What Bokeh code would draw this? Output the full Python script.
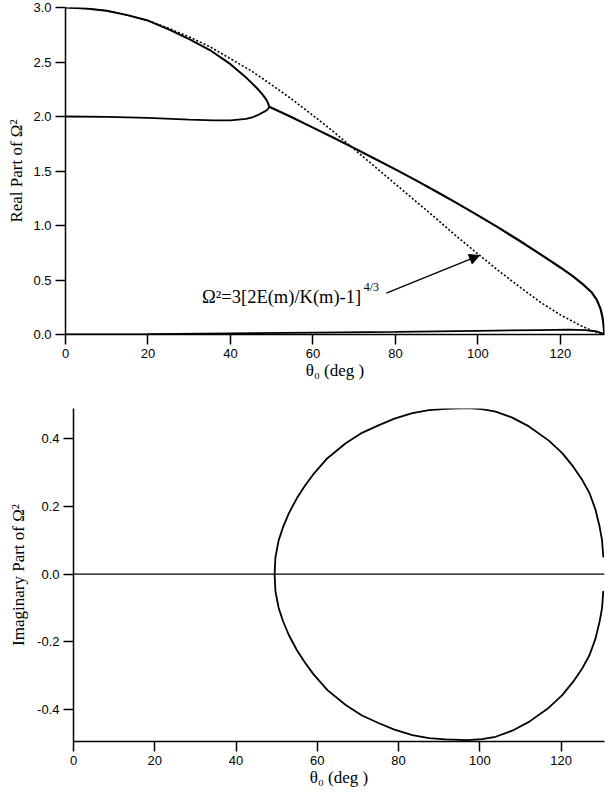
from bokeh.plotting import figure
from bokeh.models import Range1d, FixedTicker, NumeralTickFormatter, Arrow, NormalHead, Label
from bokeh.embed import file_html
from bokeh.resources import INLINE

# ---------------- data ----------------
x_ticks = [0, 20, 40, 60, 80, 100, 120]
top_y_ticks = [0.0, 0.5, 1.0, 1.5, 2.0, 2.5, 3.0]
bot_y_ticks = [-0.4, -0.2, 0.0, 0.2, 0.4]

# upper real branch (starts at 3)
upper_theta = [0, 5, 10, 15, 20, 25, 30, 35, 40, 42, 44, 45.5, 46.8, 47.8, 48.6, 49.1, 49.4]
upper_real = [3.0, 2.99, 2.97, 2.93, 2.88, 2.80, 2.71, 2.61, 2.48, 2.415, 2.35, 2.295, 2.245,
              2.20, 2.16, 2.125, 2.09]

# lower real branch (starts at 2)
lower_theta = [0, 10, 20, 30, 36, 40, 43.8, 45.5, 47.0, 48.0, 48.8, 49.2, 49.4]
lower_real = [2.0, 1.996, 1.987, 1.972, 1.964, 1.964, 1.978, 1.995, 2.02, 2.04, 2.058, 2.075, 2.09]

# real part of the merged complex pair
merged_theta = [49.4, 55, 60, 65, 70, 75, 80, 85, 90, 95, 100, 105, 110, 115, 120, 123,
                125.5, 127.5, 128.8, 129.7, 130.2, 130.5, 130.65]
merged_real = [2.09, 1.99, 1.898, 1.805, 1.71, 1.613, 1.515, 1.414, 1.31, 1.203, 1.093, 0.98,
               0.862, 0.74, 0.615, 0.535, 0.46, 0.39, 0.32, 0.24, 0.16, 0.08, 0.0]

# near-zero branch
low_theta = [0, 20, 40, 60, 80, 100, 115, 122, 126, 128.5, 130, 130.6]
low_real = [0.0, 0.004, 0.010, 0.017, 0.025, 0.034, 0.041, 0.044, 0.040, 0.030, 0.013, 0.0]

# dotted analytic curve  Omega^2 = 3[2E(m)/K(m)-1]^(4/3)
dot_theta = [0, 5, 10, 15, 20, 25, 30, 35, 40, 45, 50, 55, 60, 65, 70, 75, 80, 85, 90, 95,
             100, 105, 110, 115, 120, 125, 128, 130, 130.7]
dot_real = [3.0, 2.99, 2.97, 2.93, 2.88, 2.81, 2.73, 2.64, 2.53, 2.42, 2.29, 2.155, 2.01, 1.86,
            1.70, 1.54, 1.38, 1.22, 1.06, 0.895, 0.74, 0.585, 0.44, 0.30, 0.18, 0.08, 0.03, 0.005, 0.0]

# imaginary part (upper half of loop; lower half is its conjugate)
loop_theta = [49.5, 49.7, 50.5, 51.6, 53.0, 55.0, 57.0, 59.0, 62.5, 67, 71, 75.2, 79, 83.4,
              87.5, 91.6, 97, 100.5, 103.9, 108, 112.1, 117, 120.3, 123, 125.2, 127, 128.5,
              129.5, 130.1, 130.4]
loop_imag = [0.0, 0.05, 0.10, 0.14, 0.18, 0.225, 0.262, 0.295, 0.343, 0.387, 0.418, 0.441, 0.46,
             0.476, 0.485, 0.489, 0.491, 0.488, 0.481, 0.463, 0.437, 0.395, 0.358, 0.318, 0.279,
             0.24, 0.19, 0.14, 0.10, 0.05]
loop_imag_neg = [-v for v in loop_imag]

zero_theta = [0, 130.7]
zero_imag = [0.0, 0.0]

X_MAX = 130.7


def style(p, yticks, ylabel_standoff):
    p.grid.visible = False
    p.outline_line_color = None
    p.background_fill_color = "white"
    p.border_fill_color = "white"
    p.xaxis.ticker = FixedTicker(ticks=x_ticks)
    p.yaxis.ticker = FixedTicker(ticks=yticks)
    p.yaxis.formatter = NumeralTickFormatter(format="0.0")
    for ax in p.axis:
        ax.axis_line_color = "black"
        ax.axis_line_width = 1.5
        ax.major_tick_line_color = "black"
        ax.major_tick_line_width = 1.5
        ax.major_tick_in = 0
        ax.major_tick_out = 10
        ax.minor_tick_line_color = None
        ax.major_label_text_font = "Liberation Sans"
        ax.major_label_text_font_size = "13px"
        ax.major_label_text_color = "black"
        ax.major_label_standoff = 4
        ax.axis_label_text_font = "Liberation Serif"
        ax.axis_label_text_font_style = "normal"
        ax.axis_label_text_font_size = "17px"
        ax.axis_label_text_color = "black"
        ax.axis_label_standoff = 0
    p.yaxis.axis_label_standoff = ylabel_standoff


# ---------------- top plot ----------------
top = figure(width=605, height=384, x_range=Range1d(0, X_MAX), y_range=Range1d(0, 3.0),
             output_backend="svg", toolbar_location=None,
             min_border_left=65, min_border_right=1, min_border_top=7, min_border_bottom=50)
style(top, top_y_ticks, 4)
top.xaxis.axis_label = "θ₀ (deg )"
top.yaxis.axis_label = "Real Part of Ω²"

top.line(dot_theta, dot_real, line_color="black", line_width=1.6, line_dash="2 2")
top.line(upper_theta, upper_real, line_color="black", line_width=2)
top.line(lower_theta, lower_real, line_color="black", line_width=1.8)
top.line(merged_theta, merged_real, line_color="black", line_width=2.2)
top.line(low_theta, low_real, line_color="black", line_width=1.8)

top.add_layout(Label(x=33.1, y=0.34, text="Ω²=3[2E(m)/K(m)-1]", text_font="Liberation Serif",
                     text_font_size="18.5px", text_baseline="middle", text_color="black"))
top.add_layout(Label(x=72.3, y=0.434, text="4/3", text_font="Liberation Serif",
                     text_font_size="12px", text_baseline="middle", text_color="black"))
top.add_layout(Arrow(end=NormalHead(size=10, fill_color="black", line_color="black"),
                     x_start=77.8, y_start=0.379, x_end=100.4, y_end=0.725,
                     line_color="black", line_width=1.3))

# ---------------- bottom plot ----------------
bot = figure(width=605, height=407, x_range=Range1d(0, X_MAX), y_range=Range1d(-0.495, 0.49),
             output_backend="svg", toolbar_location=None,
             min_border_left=73, min_border_right=1, min_border_top=24, min_border_bottom=50)
style(bot, bot_y_ticks, 6)
bot.xaxis.axis_label = "θ₀ (deg )"
bot.yaxis.axis_label = "Imaginary Part of Ω²"

bot.line(zero_theta, zero_imag, line_color="black", line_width=1.3)
bot.line(loop_theta, loop_imag, line_color="black", line_width=1.8)
bot.line(loop_theta, loop_imag_neg, line_color="black", line_width=1.8)

open("out.html", "w").write(file_html([top, bot], INLINE))
